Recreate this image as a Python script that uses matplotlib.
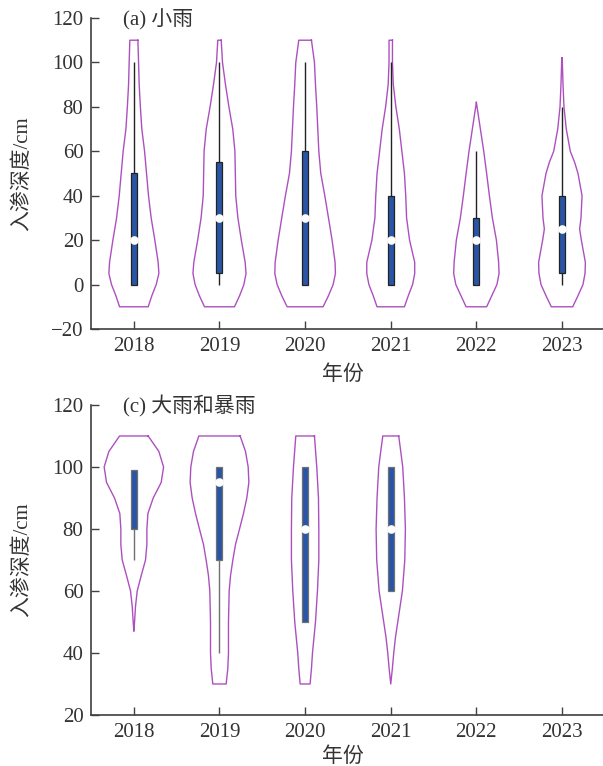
import matplotlib.pyplot as plt
import numpy as np

plt.rcParams['font.family'] = ['Liberation Serif', 'Noto Sans CJK SC']
plt.rcParams['axes.unicode_minus'] = True

years = ['2018', '2019', '2020', '2021', '2022', '2023']

# (a) 小雨 : violin outline, depth levels and half widths
a_levels = [
    [110, 100, 90, 80, 70, 60, 50, 40, 30, 20, 10, 5, 0, -5, -10],
    [110, 100, 90, 80, 70, 60, 50, 40, 30, 20, 10, 5, 0, -5, -10],
    [110, 100, 90, 80, 70, 60, 50, 40, 30, 20, 10, 5, 0, -5, -10],
    [110, 100, 90, 80, 70, 60, 50, 40, 30, 20, 10, 5, 0, -5, -10],
    [82, 80, 70, 60, 50, 40, 30, 20, 10, 5, 0, -5, -10],
    [102, 100, 90, 80, 70, 60, 55, 50, 40, 30, 25, 20, 10, 5, 0, -5, -10],
]
a_halfw = [
    [0.047, 0.055, 0.062, 0.076, 0.093, 0.125, 0.148, 0.171, 0.202, 0.245, 0.284, 0.292, 0.261, 0.210, 0.167],
    [0.020, 0.035, 0.070, 0.110, 0.155, 0.180, 0.185, 0.190, 0.215, 0.255, 0.300, 0.310, 0.285, 0.235, 0.175],
    [0.074, 0.109, 0.121, 0.136, 0.148, 0.160, 0.183, 0.230, 0.273, 0.315, 0.350, 0.354, 0.327, 0.273, 0.210],
    [0.020, 0.020, 0.030, 0.060, 0.100, 0.130, 0.160, 0.175, 0.185, 0.220, 0.280, 0.280, 0.255, 0.205, 0.160],
    [0.0, 0.008, 0.047, 0.086, 0.120, 0.152, 0.187, 0.234, 0.260, 0.265, 0.240, 0.180, 0.120],
    [0.0, 0.004, 0.012, 0.023, 0.050, 0.097, 0.148, 0.187, 0.234, 0.222, 0.206, 0.226, 0.273, 0.269, 0.245, 0.187, 0.125],
]
a_whislo = [0, 0, 0, 0, 0, 0]
a_q1 = [0, 5, 0, 0, 0, 5]
a_med = [20, 30, 30, 20, 20, 25]
a_q3 = [50, 55, 60, 40, 30, 40]
a_whishi = [100, 100, 100, 100, 60, 80]

# (c) 大雨和暴雨
c_levels = [
    [110, 105, 100, 95, 90, 85, 80, 75, 70, 65, 60, 55, 50, 47],
    [110, 105, 100, 95, 90, 85, 80, 75, 70, 65, 60, 50, 40, 35, 30],
    [110, 100, 90, 80, 70, 60, 50, 40, 35, 30],
    [110, 105, 100, 90, 80, 70, 60, 55, 50, 45, 40, 35, 30],
    [],
    [],
]
c_halfw = [
    [0.167, 0.292, 0.347, 0.319, 0.226, 0.164, 0.152, 0.152, 0.136, 0.086, 0.039, 0.019, 0.008, 0.0],
    [0.241, 0.304, 0.335, 0.343, 0.319, 0.280, 0.234, 0.187, 0.156, 0.129, 0.113, 0.105, 0.105, 0.097, 0.078],
    [0.109, 0.136, 0.156, 0.160, 0.160, 0.144, 0.121, 0.086, 0.074, 0.058],
    [0.093, 0.117, 0.140, 0.160, 0.171, 0.164, 0.136, 0.109, 0.082, 0.055, 0.035, 0.019, 0.0],
    [],
    [],
]
c_whislo = [70, 40, 50, 60, None, None]
c_q1 = [80, 70, 50, 60, None, None]
c_med = [None, 95, 80, 80, None, None]
c_q3 = [99, 100, 100, 100, None, None]
c_whishi = [99, 100, 100, 100, None, None]

VIOLIN = '#ad50bf'
BOX = '#2a55a6'
TXT = '#333333'


def draw_panel(ax, levels, halfw, whislo, q1, med, q3, whishi, edge, title, ylim, yticks, xlab_y):
    pos = np.arange(1, len(years) + 1)
    for i, p in enumerate(pos):
        if len(levels[i]) == 0:
            continue
        y = np.array(levels[i], dtype=float)
        w = np.array(halfw[i])
        xs = np.concatenate([p + w, (p - w)[::-1], [p + w[0]]])
        ys = np.concatenate([y, y[::-1], [y[0]]])
        ax.plot(xs, ys, color=VIOLIN, lw=1.0, zorder=2)
        if q1[i] is None:
            continue
        ax.vlines(p, whislo[i], whishi[i], color=edge, lw=1.0, zorder=3)
        ax.bar(p, q3[i] - q1[i], bottom=q1[i], width=0.07, color=BOX,
               edgecolor=edge, linewidth=0.9, zorder=4)
        if med[i] is not None:
            ax.plot(p, med[i], 'o', color='white', ms=6.2, mew=0, zorder=5)

    ax.set_xlim(0.5, 6.5)
    ax.set_ylim(*ylim)
    ax.set_xticks(pos)
    ax.set_xticklabels(years)
    ax.set_yticks(yticks)
    for s in ['top', 'right']:
        ax.spines[s].set_visible(False)
    for s in ['left', 'bottom']:
        ax.spines[s].set_color('#404040')
        ax.spines[s].set_linewidth(1.2)
    ax.tick_params(direction='in', length=6, width=1.0, color='#404040',
                   labelsize=15, labelcolor=TXT, pad=5.5)
    ax.set_ylabel('入渗深度/cm', fontsize=15, color=TXT)
    ax.yaxis.set_label_coords(-0.115, 0.5)
    ax.set_xlabel('年份', fontsize=15, color=TXT)
    ax.xaxis.set_label_coords(0.49, xlab_y)
    ax.text(0.062, 0.994, title, transform=ax.transAxes, fontsize=15,
            color=TXT, va='center', ha='left')


fig = plt.figure(figsize=(6.03, 7.66), dpi=100)
ax1 = fig.add_axes([0.151, 0.5705, 0.852, 0.406])
ax2 = fig.add_axes([0.151, 0.0666, 0.852, 0.4047])

draw_panel(ax1, a_levels, a_halfw, a_whislo, a_q1, a_med, a_q3, a_whishi,
           '#222222', '(a) 小雨', (-20, 120), np.arange(-20, 121, 20), -0.116)
draw_panel(ax2, c_levels, c_halfw, c_whislo, c_q1, c_med, c_q3, c_whishi,
           '#707070', '(c) 大雨和暴雨', (20, 120), np.arange(20, 121, 20), -0.103)

fig.savefig('out.png', dpi=100)
